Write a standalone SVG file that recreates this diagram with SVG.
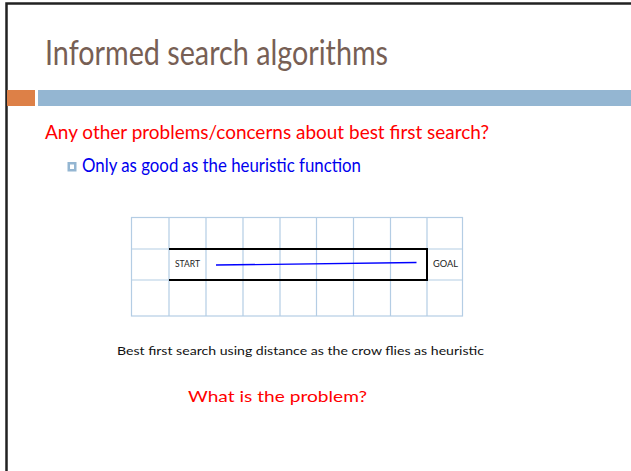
<svg xmlns="http://www.w3.org/2000/svg" width="631" height="471" viewBox="0 0 631 471">
<style>
  text { font-family: Lato, "Liberation Sans", sans-serif; }
  .grid { stroke: #B4CDE4; stroke-width: 1.2; fill: none; }
  .small { font-size: 8.5px; fill: #222; }
</style>
<rect x="0" y="0" width="631" height="471" fill="#ffffff"/>
<g id="frame">
  <path d="M6.5,471 V3.5 H631" fill="none" stroke="#222" stroke-width="2.5"/>
</g>
<g id="title">
  <text x="45" y="65" font-size="34" fill="#775F55" textLength="343" lengthAdjust="spacingAndGlyphs">Informed search algorithms</text>
</g>
<g id="bars">
  <rect x="7" y="90" width="28" height="16" fill="#DD8047"/>
  <rect x="38" y="90" width="593" height="16" fill="#94B6D2"/>
</g>
<g id="question">
  <text x="45" y="139" font-size="19.5" fill="#FF0000" textLength="444" lengthAdjust="spacingAndGlyphs">Any other problems/concerns about best first search?</text>
</g>
<g id="bullet">
  <rect x="67.5" y="162" width="9" height="9.5" fill="#94B6D2"/>
  <rect x="70" y="164.5" width="4" height="4.5" fill="#ffffff"/>
  <text x="82" y="172" font-size="18.5" fill="#0000EE" textLength="279" lengthAdjust="spacingAndGlyphs">Only as good as the heuristic function</text>
</g>
<g id="grid">
  <rect class="grid" x="131.5" y="217.5" width="331" height="98.5"/>
  <path class="grid" d="M169,217.5 V316 M206,217.5 V316 M243,217.5 V316 M280,217.5 V316 M316.5,217.5 V316 M353.5,217.5 V316 M390.5,217.5 V316 M427,217.5 V316 M131.5,249 H462.5 M131.5,280 H462.5"/>
</g>
<g id="corridor">
  <path d="M169,249 H427 V280 H169" fill="none" stroke="#000" stroke-width="2"/>
</g>
<g id="start">
  <text class="small" x="175" y="267" textLength="25" lengthAdjust="spacingAndGlyphs">START</text>
</g>
<g id="goal">
  <text class="small" x="433" y="267" textLength="25" lengthAdjust="spacingAndGlyphs">GOAL</text>
</g>
<g id="connectors">
  <line x1="216" y1="265" x2="416.5" y2="262.5" stroke="#0000FF" stroke-width="1.3"/>
</g>
<g id="caption">
  <text x="117" y="355" font-size="11.5" fill="#111" textLength="367" lengthAdjust="spacingAndGlyphs">Best first search using distance as the crow flies as heuristic</text>
</g>
<g id="problem">
  <text x="188" y="402" font-size="16" fill="#FF0000" textLength="179" lengthAdjust="spacingAndGlyphs">What is the problem?</text>
</g>
</svg>
